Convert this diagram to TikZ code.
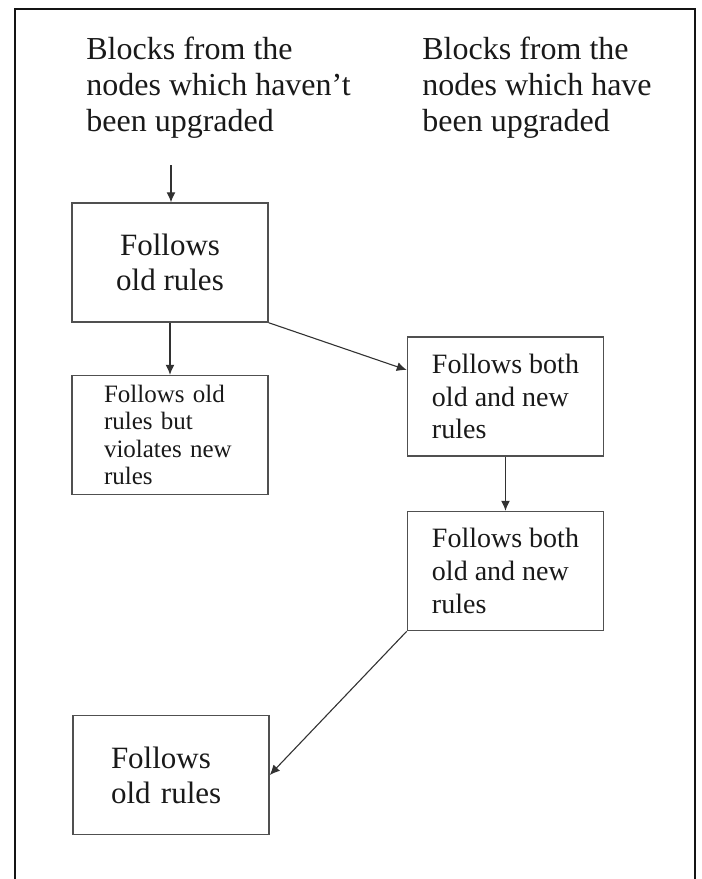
\documentclass[tikz,border=0pt]{standalone}
\usepackage{fontspec}
\setmainfont{Liberation Serif}
\usetikzlibrary{arrows.meta,positioning,calc}
\definecolor{FrameBlack}{RGB}{20,20,20}
\definecolor{BoxGrey}{RGB}{80,80,80}
\definecolor{LineGrey}{RGB}{50,50,50}
\definecolor{TextGrey}{RGB}{25,25,25}

\begin{document}
\begin{tikzpicture}[x=0.5pt, y=-0.5pt, node distance=26pt]
  \tikzstyle{block} = [rectangle, draw=BoxGrey, line width=0.75pt, text=TextGrey, minimum width=98pt, minimum height=59.5pt, inner ysep=0pt]
  \tikzstyle{heading} = [anchor=north west, inner sep=0pt, align=left, text=TextGrey, font=\fontsize{16}{18}\selectfont]
  \tikzstyle{line} = [draw=LineGrey, -{Latex[length=5pt,width=4.5pt]}, line width=0.55pt]

  \useasboundingbox (0,0) rectangle (702,879);
  \draw [FrameBlack, line width=1pt] (15,879) -- (15,9) -- (695,9) -- (695,879);

  \node [heading] (oldhead) at (86,37) {Blocks from the\\nodes which haven't\\been upgraded};
  \node [heading] (newhead) at (422,37) {Blocks from the\\nodes which have\\been upgraded};
  \coordinate (in) at (171,165);

  \node [block, align=center, font=\fontsize{15.5}{17.5}\selectfont] (oldA) at (170,262.5) {Follows\\old rules};
  \node [block, below=26pt of oldA, text width=66pt, inner xsep=16pt, align=left, font=\fontsize{12.5}{13.8}\selectfont] (oldB) {Follows old\\rules but\\violates new\\rules};
  \node [block, align=left, font=\fontsize{14}{16.4}\selectfont] (bothA) at (505.5,396.5) {Follows both\\old and new\\rules};
  \node [block, below=27pt of bothA, align=left, font=\fontsize{14}{16.4}\selectfont] (bothB) {Follows both\\old and new\\rules};
  \node [block, text width=60pt, inner xsep=19pt, align=left, font=\fontsize{15.5}{17.5}\selectfont] (oldC) at (171,775) {Follows\\old rules};

  \path [line] (in) -- (in |- oldA.north);
  \path [line] (oldA) -- (oldB);
  \path [line] (oldA.south east) -- ($(bothA.north west)!0.28!(bothA.south west)$);
  \path [line] (bothA) -- (bothB);
  \path [line] (bothB.south west) -- (oldC.east);
\end{tikzpicture}
\end{document}
